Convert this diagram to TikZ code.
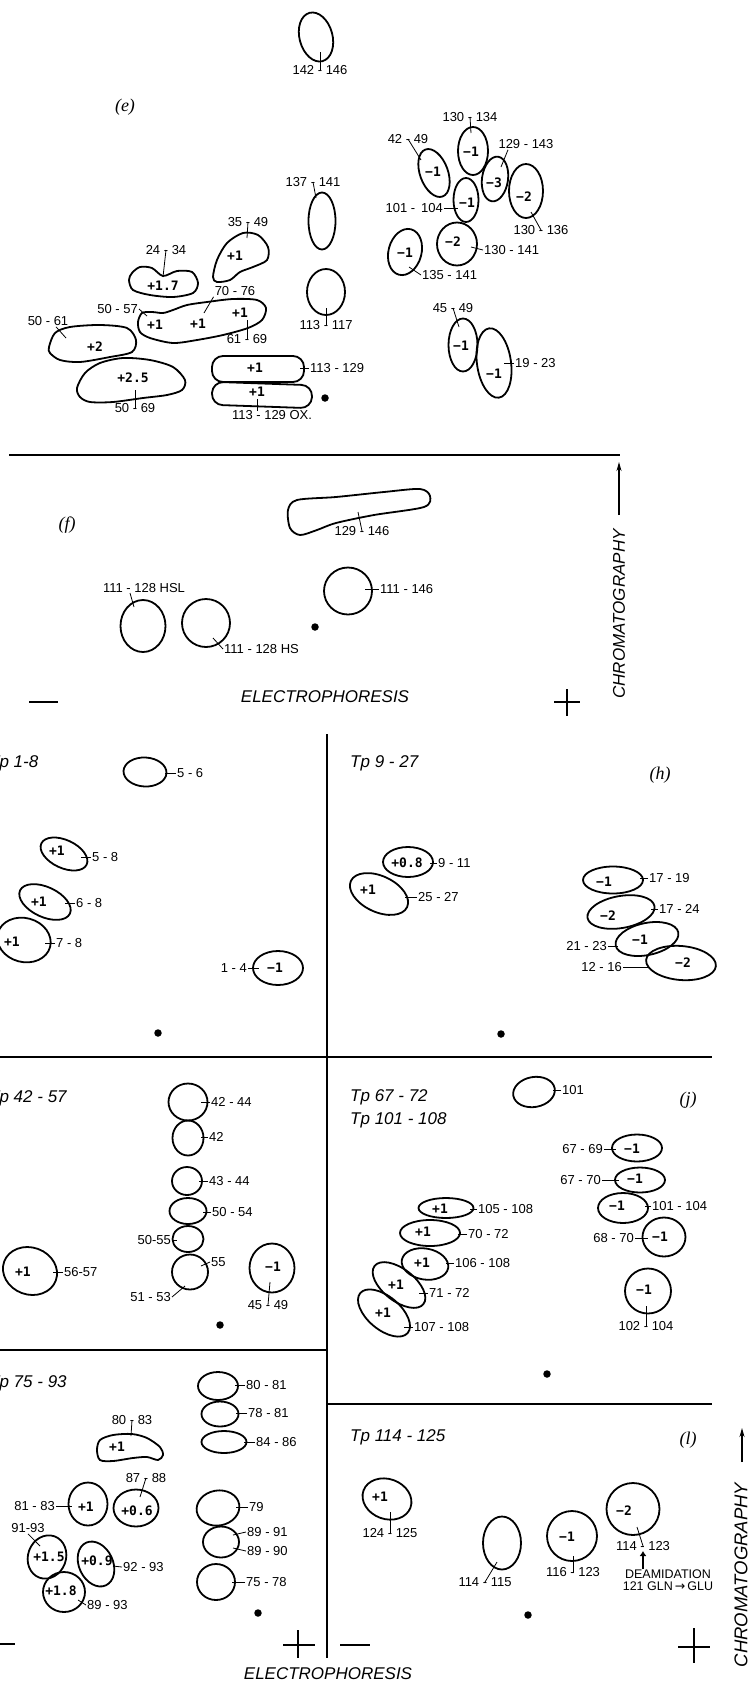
\documentclass[tikz,border=0pt]{standalone}
\usepackage{fontspec}
\usetikzlibrary{shapes.geometric,arrows.meta}
\newfontfamily\sansf{Liberation Sans}
\newfontfamily\monof{DejaVu Sans Mono}
\newfontfamily\djvf{DejaVu Sans}
\newfontfamily\serf{Liberation Serif}
\newcommand\labf{\sansf\fontsize{13}{15}\selectfont}
\newcommand\smf{\sansf\fontsize{12.5}{12}\selectfont}
\newcommand\chgf{\monof\bfseries\fontsize{13}{15}\selectfont}
\newcommand\tpf{\sansf\itshape\fontsize{17}{20}\selectfont}
\newcommand\chrf{\sansf\itshape\fontsize{18.5}{20}\selectfont}
\newcommand\pnlf{\serf\itshape\fontsize{18}{20}\selectfont}
\tikzset{
 spot/.style={draw, ellipse, line width=1.8pt, inner sep=0pt},
 stad/.style={draw, rectangle, rounded corners=11pt, line width=1.8pt, inner sep=0pt},
 sz/.style 2 args={minimum width=#1pt, minimum height=#2pt},
 blob/.style={line width=1.8pt},
 chg/.style={font=\chgf, inner sep=0pt},
 lab/.style={font=\labf, inner sep=1pt},
 ld/.style={line width=0.8pt},
 dotp/.style={circle, fill, inner sep=0pt, minimum size=7.5pt},
 tpl/.style={font=\tpf, anchor=west, inner sep=0pt},
 pnl/.style={font=\pnlf, inner sep=0pt},
 axl/.style={font=\tpf, inner sep=0pt},
 div/.style={line width=1.5pt},
 sign/.style={line width=1.5pt},
 carrow/.style={line width=1.2pt, -{Stealth[length=9pt,width=5pt]}},
}
\begin{document}
\begin{tikzpicture}[x=1pt,y=-1pt]
\useasboundingbox (0,0) rectangle (752,1684);
% ================= panel e =================
\node[spot, sz={33}{50}, rotate=15] (s142) at (316,37) {};
\node[lab] (l142) at (320,70) {142 - 146};
\draw[ld] (l142.center) -- (320,52);
\node[pnl] (pe) at (125,107) {(e)};

\node[spot, sz={27}{57}] (s137) at (322,221) {};
\node[lab] (l137) at (313,182) {137 - 141};
\draw[ld] (l137.center) -- (316,198);
\node[spot, sz={38}{46}] (s113) at (326,292) {};
\node[lab] (l113) at (326,325) {113 - 117};
\draw[ld] (l113.center) -- (326,308);

\draw[blob] plot[smooth cycle] coordinates {(213,277) (217,260) (227,243) (243,233) (258,235) (268,247) (267,260) (253,267) (240,272) (230,280) (217,282)};
\node[chg] (c35) at (235,256) {+1};
\node[lab] (l35) at (248,222) {35 - 49};
\draw[ld] (l35.center) -- (247,238);

\draw[blob] plot[smooth cycle] coordinates {(132,273) (140,267) (152,268) (163,276) (177,271) (192,272) (198,283) (193,293) (173,297) (150,295) (133,290) (129,280)};
\node[chg] (c24) at (163,286) {+1.7};
\node[lab] (l24) at (166,250) {24 - 34};
\draw[ld] (l24.center) -- (163,277);

\draw[blob] plot[smooth cycle] coordinates {(138,322) (142,313) (152,312) (163,313) (173,310) (187,305) (207,302) (233,299) (257,300) (266,308) (262,320) (248,328) (223,335) (197,340) (173,343) (150,338) (140,332)};
\node[chg] (c5057) at (155,325) {+1};
\node[chg] (c7076) at (198,324) {+1};
\node[chg] (c6169) at (240,313) {+1};
\node[lab, anchor=east] (l5057) at (139,309) {50 - 57};
\draw[ld] (l5057.east) -- (147,316);
\node[lab] (l7076) at (235,291) {70 - 76};
\draw[ld] (l7076.south west) -- (204,313);
\node[lab] (l6169) at (247,339) {61 - 69};
\draw[ld] (l6169.center) -- (247,320);

\draw[blob] plot[smooth cycle] coordinates {(49,347) (55,333) (70,327) (100,325) (127,328) (136,340) (132,352) (110,357) (80,362) (60,360) (50,353)};
\node[chg] (c5061) at (95,347) {+2};
\node[lab] (l5061) at (48,321) {50 - 61};
\draw[ld] ([xshift=8pt]l5061.south) -- (66,338);

\draw[blob] plot[smooth cycle] coordinates {(77,388) (85,373) (100,363) (123,358) (150,360) (173,367) (185,380) (182,390) (167,395) (143,398) (113,402) (90,402) (80,397)};
\node[chg] (c5069) at (133,378) {+2.5};
\node[lab] (l5069) at (135,408) {50 - 69};
\draw[ld] (l5069.center) -- (135,390);

\node[stad, sz={92}{26}] (s113a) at (258,369) {};
\node[chg] (c113a) at (255,368) {+1};
\node[lab, anchor=west] (l113a) at (309,368) {113 - 129};
\draw[ld] (l113a.west) -- (300,368);
\node[stad, sz={100}{23}, rotate=-2] (s113ox) at (262,395) {};
\node[chg] (c113ox) at (257,392) {+1};
\node[lab] (l113ox) at (272,415) {113 - 129 OX.};
\draw[ld] (257,399) -- (257,411);
\node[dotp] (de) at (325,398) {};

% right cluster
\node[spot, sz={30}{48}] (s130134) at (473,151) {};
\node[chg] (c130134) at (471,152) {−1};
\node[lab] (l130134) at (470,117) {130 - 134};
\draw[ld] (l130134.center) -- (471,133);
\node[spot, sz={28}{50}, rotate=20] (s4249) at (434,173) {};
\node[chg] (c4249) at (433,172) {−1};
\node[lab] (l4249) at (408,139) {42 - 49};
\draw[ld] (l4249.center) -- (421,160);
\node[spot, sz={26}{45}, rotate=-8] (s129143) at (495,179) {};
\node[chg] (c129143) at (494,183) {−3};
\node[lab] (l129143) at (526,144) {129 - 143};
\draw[ld] ([xshift=-18pt]l129143.south) -- (501,167);
\node[spot, sz={34}{54}] (s130136) at (526,191) {};
\node[chg] (c130136) at (524,197) {−2};
\node[lab] (l130136) at (541,230) {130 - 136};
\draw[ld] (l130136.center) -- (531,212);
\node[spot, sz={25}{44}] (s101104) at (466,200) {};
\node[chg] (c101104) at (467,203) {−1};
\node[lab, anchor=east] (l101104) at (444,208) {101 -\, 104};
\draw[ld] (l101104.east) -- (458,208);
\node[spot, sz={40}{43}] (s130141) at (457,244) {};
\node[chg] (c130141) at (453,242) {−2};
\node[lab, anchor=west] (l130141) at (483,250) {130 - 141};
\draw[ld] (l130141.west) -- (471,247);
\node[spot, sz={33}{47}, rotate=-15] (s135141) at (405,252) {};
\node[chg] (c135141) at (405,253) {−1};
\node[lab, anchor=west] (l135141) at (421,275) {135 - 141};
\draw[ld] (l135141.west) -- (409,267);
\node[spot, sz={29}{53}] (s4549) at (463,345) {};
\node[chg] (c4549) at (461,346) {−1};
\node[lab] (l4549) at (453,308) {45 - 49};
\draw[ld] (l4549.center) -- (459,327);
\node[spot, sz={34}{70}, rotate=8] (s1923) at (494,363) {};
\node[chg] (c1923) at (494,374) {−1};
\node[lab, anchor=west] (l1923) at (514,363) {19 - 23};
\draw[ld] (l1923.west) -- (504,363);

% ================= panel f =================
\draw[div] (9,455) -- (620,455);
\node[pnl] (pf) at (67,525) {(f)};
\draw[blob] plot[smooth cycle] coordinates {(288,510) (297,500) (336,497) (384,492) (420,489) (430,496) (424,507) (374,515) (336,523) (317,530) (300,535) (290,528)};
\node[lab] (l129146) at (362,531) {129 - 146};
\draw[ld] (l129146.center) -- (358,512);
\node[spot, sz={48}{47}] (s111146) at (348,591) {};
\node[lab, anchor=west] (l111146) at (379,589) {111 - 146};
\draw[ld] (l111146.west) -- (365,589);
\node[spot, sz={45}{52}] (sHSL) at (143,626) {};
\node[lab] (lHSL) at (144,588) {111 - 128 HSL};
\draw[ld] (130,593) -- (134,607);
\node[spot, sz={48}{48}] (sHS) at (206,623) {};
\node[lab, anchor=west] (lHS) at (223,649) {111 - 128 HS};
\draw[ld] (lHS.west) -- (213,638);
\node[dotp] (df) at (315,627) {};
\draw[sign] (29,702) -- (58,702);
\node[axl] (elf) at (325,697) {ELECTROPHORESIS};
\draw[sign] (554,702) -- (580,702) (567,689) -- (567,716);
\node[axl, rotate=90] (chf) at (619,614) {CHROMATOGRAPHY};
\draw[carrow] (619,515) -- (619,462);

% ================= dividers =================
\draw[div] (327,734) -- (327,1658);
\draw[div] (0,1057) -- (712,1057);
\draw[div] (0,1350) -- (327,1350);
\draw[div] (327,1404) -- (712,1404);

% ================= panel g =================
\node[tpl] (tg) at (-11,763) {Tp 1-8};
\node[spot, sz={43}{29}, rotate=-3] (s56) at (145,772) {};
\node[lab, anchor=west] (l56) at (176,773) {5 - 6};
\draw[ld] (l56.west) -- (165,773);
\node[spot, sz={50}{28}, rotate=-25] (s58) at (64,854) {};
\node[chg] (c58) at (57,851) {+1};
\node[lab, anchor=west] (l58) at (91,857) {5 - 8};
\draw[ld] (l58.west) -- (81,857);
\node[spot, sz={55}{30}, rotate=-25] (s68) at (45,902) {};
\node[chg] (c68) at (39,902) {+1};
\node[lab, anchor=west] (l68) at (75,903) {6 - 8};
\draw[ld] (l68.west) -- (65,903);
\node[spot, sz={54}{44}, rotate=-15] (s78) at (24,940) {};
\node[chg] (c78) at (12,942) {+1};
\node[lab, anchor=west] (l78) at (55,943) {7 - 8};
\draw[ld] (l78.west) -- (45,943);
\node[spot, sz={50}{34}] (s14) at (278,968) {};
\node[chg] (c14) at (275,968) {−1};
\node[lab, anchor=east] (l14) at (248,968) {1 - 4};
\draw[ld] (l14.east) -- (259,968);
\node[dotp] (dg) at (158,1033) {};

% ================= panel h =================
\node[tpl] (th) at (350,763) {Tp 9 - 27};
\node[pnl] (ph) at (660,775) {(h)};
\node[spot, sz={50}{30}] (s911) at (408,862) {};
\node[chg] (c911) at (407,863) {+0.8};
\node[lab, anchor=west] (l911) at (437,863) {9 - 11};
\draw[ld] (l911.west) -- (430,863);
\node[spot, sz={62}{36}, rotate=-25] (s2527) at (379,894) {};
\node[chg] (c2527) at (368,890) {+1};
\node[lab, anchor=west] (l2527) at (417,897) {25 - 27};
\draw[ld] (l2527.west) -- (405,897);
\node[spot, sz={60}{27}] (s1719) at (613,880) {};
\node[chg] (c1719) at (604,882) {−1};
\node[lab, anchor=west] (l1719) at (648,878) {17 - 19};
\draw[ld] (l1719.west) -- (640,878);
\node[spot, sz={68}{32}, rotate=10] (s1724) at (621,912) {};
\node[chg] (c1724) at (608,916) {−2};
\node[lab, anchor=west] (l1724) at (658,909) {17 - 24};
\draw[ld] (l1724.west) -- (651,909);
\node[spot, sz={64}{32}, rotate=12] (s2123) at (647,939) {};
\node[chg] (c2123) at (640,940) {−1};
\node[lab, anchor=east] (l2123) at (608,946) {21 - 23};
\draw[ld] (l2123.east) -- (618,946);
\node[spot, sz={70}{34}, rotate=-5] (s1216) at (681,963) {};
\node[chg] (c1216) at (683,963) {−2};
\node[lab, anchor=east] (l1216) at (623,967) {12 - 16};
\draw[ld] (l1216.east) -- (650,967);
\node[dotp] (dh) at (501,1034) {};

% ================= panel i =================
\node[tpl] (ti) at (-11,1098) {Tp 42 - 57};
\node[spot, sz={39}{37}] (s4244) at (188,1102) {};
\node[lab, anchor=west] (l4244) at (210,1102) {42 - 44};
\draw[ld] (l4244.west) -- (201,1102);
\node[spot, sz={31}{35}] (s42) at (188,1138) {};
\node[lab, anchor=west] (l42) at (208,1137) {42};
\draw[ld] (l42.west) -- (201,1137);
\node[spot, sz={30}{28}] (s4344) at (187,1181) {};
\node[lab, anchor=west] (l4344) at (208,1181) {43 - 44};
\draw[ld] (l4344.west) -- (199,1181);
\node[spot, sz={37}{26}] (s5054) at (188,1211) {};
\node[lab, anchor=west] (l5054) at (211,1212) {50 - 54};
\draw[ld] (l5054.west) -- (203,1212);
\node[spot, sz={31}{26}] (s5055) at (188,1239) {};
\node[lab, anchor=east] (l5055) at (172,1240) {50-55};
\draw[ld] (l5055.east) -- (177,1240);
\node[spot, sz={36}{35}] (s55) at (190,1272) {};
\node[lab, anchor=west] (l55) at (210,1262) {55};
\draw[ld] (l55.west) -- (201,1266);
\node[lab, anchor=east] (l5153) at (172,1297) {51 - 53};
\draw[ld] (l5153.east) -- (185,1286);
\node[spot, sz={55}{47}, rotate=-20] (s5657) at (30,1271) {};
\node[chg] (c5657) at (23,1272) {+1};
\node[lab, anchor=west] (l5657) at (63,1272) {56-57};
\draw[ld] (l5657.west) -- (53,1272);
\node[spot, sz={45}{49}] (s4549i) at (272,1268) {};
\node[chg] (c4549i) at (273,1267) {−1};
\node[lab] (l4549i) at (268,1305) {45 - 49};
\draw[ld] (l4549i.center) -- (270,1282);
\node[dotp] (di) at (220,1325) {};

% ================= panel j =================
\node[tpl] (tj1) at (350,1097) {Tp 67 - 72};
\node[tpl] (tj2) at (350,1120) {Tp 101 - 108};
\node[pnl] (pj) at (688,1100) {(j)};
\node[spot, sz={42}{30}, rotate=10] (s101) at (534,1092) {};
\node[lab, anchor=west] (l101) at (561,1090) {101};
\draw[ld] (l101.west) -- (553,1090);
\node[spot, sz={50}{27}] (s6769) at (637,1148) {};
\node[chg] (c6769) at (632,1149) {−1};
\node[lab, anchor=east] (l6769) at (604,1149) {67 - 69};
\draw[ld] (l6769.east) -- (616,1149);
\node[spot, sz={50}{25}] (s6770) at (640,1180) {};
\node[chg] (c6770) at (635,1179) {−1};
\node[lab, anchor=east] (l6770) at (602,1180) {67 - 70};
\draw[ld] (l6770.east) -- (619,1180);
\node[spot, sz={50}{30}] (s101104j) at (623,1208) {};
\node[chg] (c101104j) at (617,1206) {−1};
\node[lab, anchor=west] (l101104j) at (651,1206) {101 - 104};
\draw[ld] (l101104j.west) -- (645,1206);
\node[spot, sz={43}{39}] (s6870) at (664,1237) {};
\node[chg] (c6870) at (660,1237) {−1};
\node[lab, anchor=east] (l6870) at (635,1238) {68 - 70};
\draw[ld] (l6870.east) -- (648,1238);
\node[spot, sz={46}{45}] (s102104) at (648,1291) {};
\node[chg] (c102104) at (644,1290) {−1};
\node[lab] (l102104) at (646,1326) {102 - 104};
\draw[ld] (l102104.center) -- (646,1306);
\node[spot, sz={55}{20}] (s105108) at (446,1208) {};
\node[chg] (c105108) at (440,1209) {+1};
\node[lab, anchor=west] (l105108) at (477,1209) {105 - 108};
\draw[ld] (l105108.west) -- (470,1209);
\node[spot, sz={60}{26}] (s7072) at (430,1233) {};
\node[chg] (c7072) at (423,1232) {+1};
\node[lab, anchor=west] (l7072) at (467,1234) {70 - 72};
\draw[ld] (l7072.west) -- (458,1234);
\node[spot, sz={47}{31}, rotate=-10] (s106108) at (425,1264) {};
\node[chg] (c106108) at (422,1263) {+1};
\node[lab, anchor=west] (l106108) at (454,1263) {106 - 108};
\draw[ld] (l106108.west) -- (446,1263);
\node[spot, sz={62}{32}, rotate=-38] (s7172) at (399,1285) {};
\node[chg] (c7172) at (396,1285) {+1};
\node[lab, anchor=west] (l7172) at (428,1293) {71 - 72};
\draw[ld] (l7172.west) -- (419,1293);
\node[spot, sz={62}{33}, rotate=-40] (s107108) at (384,1313) {};
\node[chg] (c107108) at (383,1313) {+1};
\node[lab, anchor=west] (l107108) at (413,1327) {107 - 108};
\draw[ld] (l107108.west) -- (404,1327);
\node[dotp] (dj) at (547,1374) {};

% ================= panel k =================
\node[tpl] (tk) at (-11,1383) {Tp 75 - 93};
\node[spot, sz={40}{28}] (s8081) at (218,1386) {};
\node[lab, anchor=west] (l8081) at (245,1385) {80 - 81};
\draw[ld] (l8081.west) -- (235,1385);
\node[spot, sz={37}{25}] (s7881) at (220,1414) {};
\node[lab, anchor=west] (l7881) at (247,1413) {78 - 81};
\draw[ld] (l7881.west) -- (236,1413);
\node[spot, sz={45}{22}] (s8486) at (224,1442) {};
\node[lab, anchor=west] (l8486) at (255,1442) {84 - 86};
\draw[ld] (l8486.west) -- (244,1442);
\draw[blob] plot[smooth cycle] coordinates {(97,1450) (100,1440) (113,1435) (132,1434) (147,1438) (160,1447) (163,1455) (158,1460) (147,1457) (133,1458) (113,1461) (100,1460)};
\node[chg] (c8083) at (117,1447) {+1};
\node[lab] (l8083) at (132,1420) {80 - 83};
\draw[ld] (l8083.center) -- (131,1436);
\node[spot, sz={45}{37}] (s8788) at (136,1508) {};
\node[chg] (c8788) at (137,1511) {+0.6};
\node[lab] (l8788) at (146,1478) {87 - 88};
\draw[ld] (l8788.center) -- (140,1497);
\node[spot, sz={39}{43}] (s8183) at (88,1504) {};
\node[chg] (c8183) at (86,1507) {+1};
\node[lab, anchor=east] (l8183) at (56,1506) {81 - 83};
\draw[ld] (l8183.east) -- (72,1506);
\node[spot, sz={38}{44}, rotate=-20] (s9193) at (47,1557) {};
\node[chg] (c9193) at (49,1557) {+1.5};
\node[lab] (l9193) at (28,1528) {91-93};
\draw[ld] (l9193.south) -- (40,1546);
\node[spot, sz={34}{47}, rotate=25] (s9293) at (96,1564) {};
\node[chg] (c9293) at (97,1561) {+0.9};
\node[lab, anchor=west] (l9293) at (122,1567) {92 - 93};
\draw[ld] (l9293.west) -- (113,1566);
\node[spot, sz={42}{40}] (s8993) at (64,1592) {};
\node[chg] (c8993) at (61,1591) {+1.8};
\node[lab, anchor=west] (l8993) at (86,1605) {89 - 93};
\draw[ld] (l8993.west) -- (78,1600);
\node[spot, sz={43}{35}, rotate=10] (s79) at (218,1508) {};
\node[lab, anchor=west] (l79) at (248,1507) {79};
\draw[ld] (l79.west) -- (236,1507);
\node[spot, sz={36}{31}] (s8991) at (221,1542) {};
\node[lab, anchor=west] (l8991) at (246,1532) {89 - 91};
\draw[ld] (l8991.west) -- (233,1535);
\node[lab, anchor=west] (l8990) at (246,1551) {89 - 90};
\draw[ld] (l8990.west) -- (233,1548);
\node[spot, sz={38}{36}] (s7578) at (216,1582) {};
\node[lab, anchor=west] (l7578) at (245,1582) {75 - 78};
\draw[ld] (l7578.west) -- (232,1582);
\node[dotp] (dk) at (258,1613) {};
\draw[sign] (-1,1644) -- (15,1644);
\draw[sign] (283,1645) -- (315,1645) (298,1630) -- (298,1658);

% ================= panel l =================
\node[tpl] (tl) at (350,1437) {Tp 114 - 125};
\node[pnl] (pl) at (688,1440) {(l)};
\node[spot, sz={50}{40}, rotate=-20] (s124125) at (387,1499) {};
\node[chg] (c124125) at (380,1497) {+1};
\node[lab] (l124125) at (390,1533) {124 - 125};
\draw[ld] (l124125.center) -- (390,1512);
\node[spot, sz={38}{53}] (s114115) at (502,1543) {};
\node[lab] (l114115) at (485,1582) {114 - 115};
\draw[ld] (l114115.center) -- (497,1562);
\node[spot, sz={50}{50}] (s116123) at (572,1536) {};
\node[chg] (c116123) at (567,1537) {−1};
\node[lab] (l116123) at (573,1572) {116 - 123};
\draw[ld] (l116123.center) -- (573,1556);
\node[spot, sz={53}{52}] (s114123) at (633,1509) {};
\node[chg] (c114123) at (624,1511) {−2};
\node[lab] (l114123) at (643,1546) {114 - 123};
\draw[ld] (l114123.center) -- (637,1527);
\node[font=\smf, align=center, inner sep=0pt] (deam) at (668,1580) {DEAMIDATION\\121 GLN\,{\djvf →}\,GLU};
\draw[line width=1.2pt, -{Latex[length=5pt,width=7pt]}] (deam.north -| 643,0) -- (643,1551);
\node[dotp] (dl) at (528,1615) {};
\draw[sign] (340,1645) -- (370,1645);
\draw[sign] (678,1647) -- (710,1647) (694,1628) -- (694,1663);
\node[axl] (elb) at (328,1674) {ELECTROPHORESIS};
\node[font=\chrf, inner sep=0pt, rotate=90] (chb) at (741,1575) {CHROMATOGRAPHY};
\draw[carrow] (742,1462) -- (742,1428);
\end{tikzpicture}
\end{document}
